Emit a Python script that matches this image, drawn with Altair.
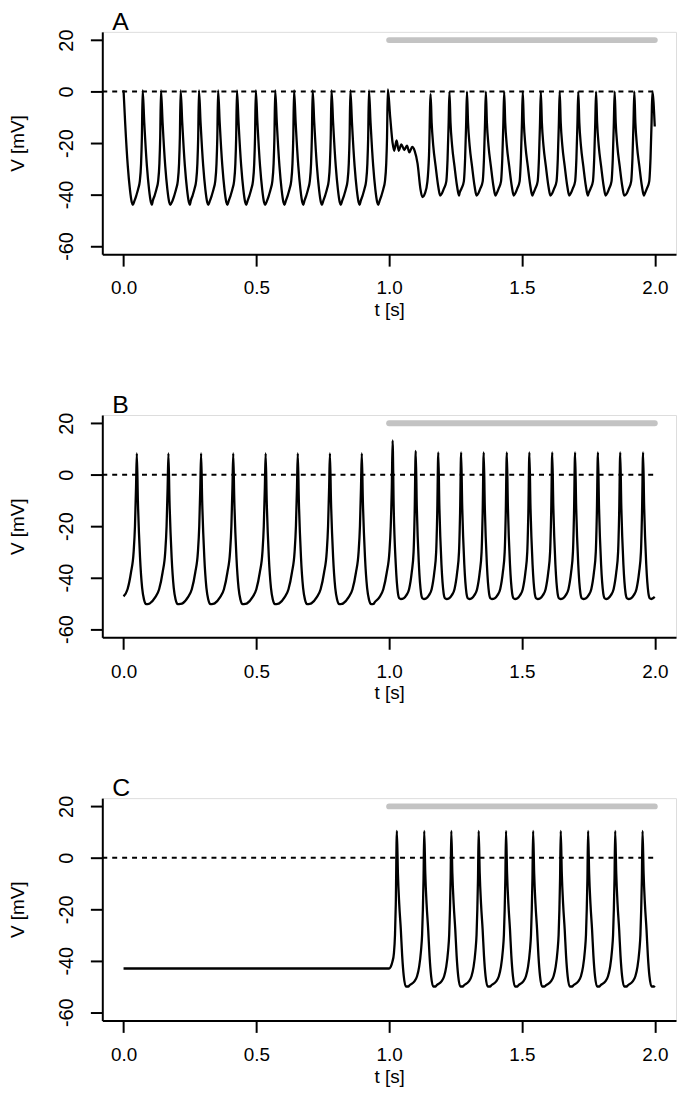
import altair as alt
import pandas as pd

# ---------------- values ----------------
# Panel A : first regime (t < 1 s)
A1_peak_t = [0.000, 0.072, 0.141, 0.215, 0.284, 0.356, 0.427, 0.498, 0.571,
             0.642, 0.712, 0.783, 0.854, 0.924, 0.995]
A1_peak_v = [0.5, 0.5, 0.5, 0.5, 0.5, 0.5, 0.5, 0.5, 0.5, 0.5, 0.5, 0.5, 0.5, 0.5, 0.8]
A1_fall_dt = [0.006, 0.016, 0.024, 0.031, 0.035]
A1_fall_v = [-12, -29, -38, -43, -44]
A1_rise_dt = [0.031, 0.024, 0.016, 0.011, 0.006, 0.003]
A1_rise_v = [-42.5, -40.4, -37.5, -35, -28, -18]
# Panel A : transition after stimulus onset
A_tr_t = [1.004, 1.013, 1.019, 1.028, 1.036, 1.046, 1.057, 1.067, 1.076, 1.087,
          1.096, 1.107, 1.118, 1.125, 1.135, 1.144, 1.150]
A_tr_v = [-10, -20, -23, -19, -23, -20.5, -22.7, -21, -23.6, -21.5,
          -23, -28, -38, -41, -39.5, -35, -25]
# Panel A : second regime
A2_peak_t = [1.156, 1.227, 1.293, 1.364, 1.433, 1.503, 1.571, 1.642, 1.712,
             1.779, 1.849, 1.923, 1.991]
A2_peak_v = [-1, 0, 0, 0, 0, 0, 0, 0, 0, 0, 0, 0, 0]
A2_fall_dt = [0.004, 0.010, 0.019, 0.029, 0.036]
A2_fall_v = [-12, -21, -29, -37, -40.4]
A2_rise_dt = [0.028, 0.020, 0.012, 0.007, 0.003]
A2_rise_v = [-39.5, -37.5, -35, -26, -12]
A_end_t, A_end_v = 2.000, -13.6

# Panel B
B_start_t, B_start_v = 0.000, -47.3
B1_peak_t = [0.050, 0.169, 0.292, 0.413, 0.535, 0.656, 0.777, 0.897, 1.013]
B1_peak_v = [8.3, 8.3, 8.3, 8.3, 8.3, 8.3, 8.3, 8.3, 13.3]
B1_fall_dt = [0.004, 0.012, 0.020, 0.027, 0.035, 0.045]
B1_fall_v = [-10, -32, -44, -48.5, -50.3, -50.2]
B1_rise_dt = [0.070, 0.050, 0.035, 0.022, 0.012, 0.007, 0.003]
B1_rise_v = [-50, -47.7, -44.5, -38, -30, -20, -5]
B2_peak_t = [1.100, 1.185, 1.271, 1.356, 1.443, 1.528, 1.614, 1.700, 1.786, 1.870, 1.956]
B2_peak_v = [9.3, 8.7, 8.7, 8.7, 8.7, 8.7, 8.7, 8.7, 8.7, 8.7, 8.7]
B2_fall_dt = [0.004, 0.012, 0.020, 0.025, 0.031]
B2_fall_v = [-12, -35, -46, -48, -48.3]
B2_rise_dt = [0.045, 0.035, 0.025, 0.015, 0.008, 0.004]
B2_rise_v = [-48, -46.8, -44.5, -38, -30, -15]
B_end_t, B_end_v = 2.000, -47.5

# Panel C
C_pre_t = [0.000, 1.000, 1.006, 1.012, 1.018, 1.022, 1.025]
C_pre_v = [-43, -43, -42.3, -40.5, -37, -30, -18]
C_peak_t = [1.029, 1.132, 1.234, 1.337, 1.440, 1.542, 1.646, 1.749, 1.851, 1.954]
C_peak_v = [10.5, 10.5, 10.5, 10.5, 10.5, 10.5, 10.5, 10.5, 10.5, 10.5]
C_fall_dt = [0.004, 0.009, 0.015, 0.020, 0.026, 0.034, 0.043]
C_fall_v = [-6, -18, -28, -38, -46, -50, -50]
C_rise_dt = [0.055, 0.037, 0.027, 0.019, 0.012, 0.008, 0.005, 0.0025]
C_rise_v = [-49.5, -48, -46, -42.3, -36, -30, -20, -8]
C_end_t, C_end_v = 2.000, -49.7

# reference lines
ZERO_T = [-0.08, 2.0]
ZERO_V = 0
STIM_T = [1.0, 2.0]
STIM_V = 20
X_TICKS = [0.0, 0.5, 1.0, 1.5, 2.0]
Y_TICKS = [-60, -40, -20, 0, 20]
X_DOMAIN = [-0.08, 2.08]
Y_DOMAIN = [-63.2, 23.2]


def fall_pts(t0, dts, vs):
    return [(t0 + d, v) for d, v in zip(dts, vs)]


def rise_pts(t1, dts, vs):
    return [(t1 - d, v) for d, v in zip(dts, vs)]


# ---------- assemble traces ----------
ptsA = []
for i, (t, v) in enumerate(zip(A1_peak_t, A1_peak_v)):
    ptsA.append((t, v))
    if i < len(A1_peak_t) - 1:
        ptsA += fall_pts(t, A1_fall_dt, A1_fall_v)
        ptsA += rise_pts(A1_peak_t[i + 1], A1_rise_dt, A1_rise_v)
ptsA += list(zip(A_tr_t, A_tr_v))
for i, (t, v) in enumerate(zip(A2_peak_t, A2_peak_v)):
    ptsA.append((t, v))
    if i < len(A2_peak_t) - 1:
        ptsA += fall_pts(t, A2_fall_dt, A2_fall_v)
        ptsA += rise_pts(A2_peak_t[i + 1], A2_rise_dt, A2_rise_v)
ptsA.append((A_end_t, A_end_v))

ptsB = [(B_start_t, B_start_v)]
ptsB += [p for p in rise_pts(B1_peak_t[0], B1_rise_dt, B1_rise_v) if p[0] > B_start_t]
B_t = B1_peak_t + B2_peak_t
B_v = B1_peak_v + B2_peak_v
nB1 = len(B1_peak_t)
for i, (t, v) in enumerate(zip(B_t, B_v)):
    ptsB.append((t, v))
    if i < nB1 - 1:
        ptsB += fall_pts(t, B1_fall_dt, B1_fall_v)
    else:
        ptsB += fall_pts(t, B2_fall_dt, B2_fall_v)
    if i < len(B_t) - 1:
        if i + 1 < nB1:
            ptsB += rise_pts(B_t[i + 1], B1_rise_dt, B1_rise_v)
        else:
            ptsB += rise_pts(B_t[i + 1], B2_rise_dt, B2_rise_v)
ptsB.append((B_end_t, B_end_v))

ptsC = list(zip(C_pre_t, C_pre_v))
for i, (t, v) in enumerate(zip(C_peak_t, C_peak_v)):
    ptsC.append((t, v))
    ptsC += fall_pts(t, C_fall_dt, C_fall_v)
    if i < len(C_peak_t) - 1:
        ptsC += rise_pts(C_peak_t[i + 1], C_rise_dt, C_rise_v)
ptsC.append((C_end_t, C_end_v))

FONT = "Liberation Sans"
W, H = 578, 224

xscale = alt.Scale(domain=X_DOMAIN, nice=False, zero=False)
yscale = alt.Scale(domain=Y_DOMAIN, nice=False, zero=False)

xaxis = alt.Axis(values=X_TICKS, format=".1f", title="t [s]", grid=False,
                 labelFontSize=19, titleFontSize=19, titleFontWeight="normal",
                 tickSize=12, tickWidth=2, tickColor="black",
                 domainColor="black", domainWidth=2,
                 labelPadding=13, labelFlush=False, labelOverlap=False,
                 labelColor="black", titleColor="black",
                 titleY=56, titleBaseline="middle", labelFont=FONT, titleFont=FONT)
yaxis = alt.Axis(values=Y_TICKS, title="V [mV]", grid=False,
                 labelExpr="'' + datum.value",
                 labelFontSize=20, titleFontSize=19, titleFontWeight="normal",
                 tickSize=12, tickWidth=2, tickColor="black",
                 domainColor="black", domainWidth=2,
                 labelAngle=270, labelAlign="center", labelBaseline="alphabetic",
                 labelPadding=18, labelOverlap=False, labelFlush=False,
                 labelColor="black", titleColor="black",
                 titleAngle=270, titleX=-85, titleY=H / 2,
                 titleAlign="center", titleBaseline="middle",
                 labelFont=FONT, titleFont=FONT)

zero_df = pd.DataFrame({"t": [ZERO_T[0]], "t2": [ZERO_T[1]], "V": [ZERO_V]})
stim_df = pd.DataFrame({"t": [STIM_T[0]], "t2": [STIM_T[1]], "V": [STIM_V]})


def panel(pts, letter):
    df = pd.DataFrame(pts, columns=["t", "V"])
    x = alt.X("t:Q", scale=xscale, axis=xaxis)
    y = alt.Y("V:Q", scale=yscale, axis=yaxis)
    zero = alt.Chart(zero_df).mark_rule(color="black", strokeWidth=2,
                                        strokeDash=[5, 5]).encode(
        x=x, x2="t2:Q", y=y)
    stim = alt.Chart(stim_df).mark_rule(color="#c3c3c3", strokeWidth=6,
                                        strokeCap="round").encode(
        x=x, x2="t2:Q", y=y)
    trace = alt.Chart(df).mark_line(color="black", strokeWidth=2.3,
                                    interpolate="monotone").encode(x=x, y=y)
    return alt.layer(zero, stim, trace).properties(
        width=W, height=H,
        title=alt.TitleParams(letter, anchor="start", frame="group", dx=10,
                              offset=-5.5, fontSize=25, fontWeight="normal",
                              font=FONT, color="black"))


chart = alt.vconcat(panel(ptsA, "A"), panel(ptsB, "B"), panel(ptsC, "C"),
                    spacing=162, bounds="flush").properties(
    padding={"left": 0, "top": -3, "right": 0, "bottom": 0},
    background="white",
).configure_view(stroke=None).configure(font=FONT)

chart.save("out.html", embed_options={"renderer": "svg", "actions": False})
